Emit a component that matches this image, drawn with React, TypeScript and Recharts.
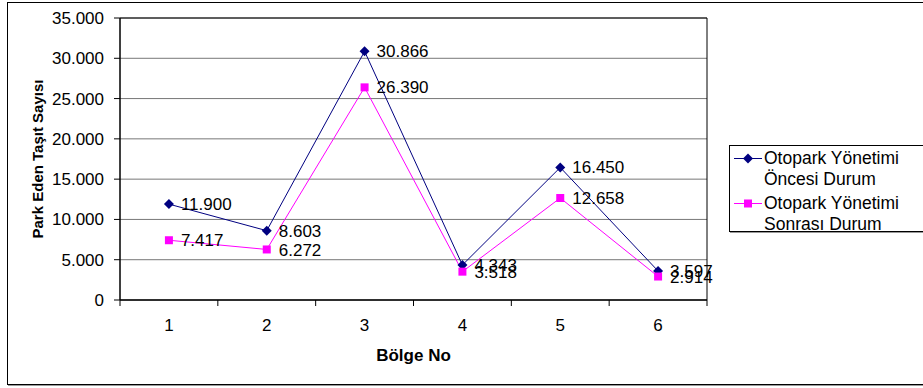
import React from "react";
import {
  CartesianGrid,
  LabelList,
  Line,
  LineChart,
  ReferenceArea,
  XAxis,
  YAxis,
} from "recharts";

const regions = [1, 2, 3, 4, 5, 6];
const beforeValues = [11900, 8603, 30866, 4343, 16450, 3597];
const afterValues = [7417, 6272, 26390, 3518, 12658, 2914];
const yTicks = [0, 5000, 10000, 15000, 20000, 25000, 30000, 35000];
const xTicks = [0.5, 1, 1.5, 2, 2.5, 3, 3.5, 4, 4.5, 5, 5.5, 6, 6.5];
const beforeName = ["Otopark Yönetimi", "Öncesi Durum"];
const afterName = ["Otopark Yönetimi", "Sonrası Durum"];

const NAVY = "#000080";
const MAGENTA = "#FF00FF";
const FONT = '"Liberation Sans", Arial, sans-serif';
const FS = 17;

const data = regions.map((r, i) => ({
  region: r,
  before: beforeValues[i],
  after: afterValues[i],
}));

// 11900 -> "11.900"
const fmt = (v: number) => String(v).replace(/\B(?=(\d{3})+(?!\d))/g, ".");

const XTick = (props: any) => {
  const { x, y, payload } = props;
  const v = payload.value;
  if (Number.isInteger(v)) {
    return (
      <text x={x} y={y + 25} textAnchor="middle" fontSize={FS} fontFamily={FONT} fill="#000">
        {v}
      </text>
    );
  }
  return <line x1={x} x2={x} y1={y - 6} y2={y} stroke="#000" />;
};

const Diamond = (props: any) => {
  const { cx, cy } = props;
  if (cx == null || cy == null) return <g key={props.key} />;
  return (
    <path
      key={props.key}
      d={`M${cx},${cy - 5}L${cx + 5},${cy}L${cx},${cy + 5}L${cx - 5},${cy}Z`}
      fill={NAVY}
    />
  );
};

const Square = (props: any) => {
  const { cx, cy } = props;
  if (cx == null || cy == null) return <g key={props.key} />;
  return <rect key={props.key} x={cx - 4} y={cy - 4} width={8} height={8} fill={MAGENTA} />;
};

const LegendItem = ({ color, lines, square }: { color: string; lines: string[]; square: boolean }) => (
  <div style={{ display: "flex", alignItems: "flex-start", marginBottom: 3 }}>
    <svg width={34} height={21} style={{ flex: "none" }}>
      <line x1={4} x2={32} y1={10.5} y2={10.5} stroke={color} strokeWidth={1} />
      {square ? (
        <rect x={14} y={6.5} width={8} height={8} fill={color} />
      ) : (
        <path d="M18,5.5L23,10.5L18,15.5L13,10.5Z" fill={color} />
      )}
    </svg>
    <div style={{ lineHeight: "21px", whiteSpace: "nowrap" }}>
      {lines.map((l) => (
        <div key={l}>{l}</div>
      ))}
    </div>
  </div>
);

export default function App() {
  return (
    <div
      style={{
        position: "absolute",
        left: 0,
        top: 0,
        width: 923,
        height: 388,
        overflow: "hidden",
        background: "#fff",
        fontFamily: FONT,
      }}
    >
      {/* outer chart frame */}
      <div
        style={{
          position: "absolute",
          left: 7,
          top: 2,
          width: 940,
          height: 381,
          border: "1px solid #000",
          boxShadow: "1px 1px 0 #999",
        }}
      />

      <div style={{ position: "absolute", left: 0, top: 0 }}>
        <LineChart
          width={923}
          height={388}
          data={data}
          margin={{ top: 18, right: 216, left: 0, bottom: 0 }}
        >
          <CartesianGrid vertical={false} stroke="#777" />
          <ReferenceArea
            x1={0.5}
            x2={6.5}
            y1={0}
            y2={35000}
            fill="none"
            stroke="#000"
            strokeWidth={1}
          />
          <XAxis
            dataKey="region"
            type="number"
            domain={[0.5, 6.5]}
            ticks={xTicks}
            interval={0}
            tickLine={false}
            tickSize={6}
            tickMargin={0}
            tick={<XTick />}
            axisLine={{ stroke: "#000" }}
            height={88}
            label={{
              value: "Bölge No",
              position: "insideBottom",
              offset: 27,
              style: { fontWeight: "bold", fontSize: FS, fontFamily: FONT, fill: "#000" },
            }}
          />
          <YAxis
            domain={[0, 35000]}
            ticks={yTicks}
            interval={0}
            width={120}
            tickSize={6}
            tickMargin={10}
            tickFormatter={fmt}
            tick={{ fontSize: FS, fontFamily: FONT, fill: "#000" }}
            tickLine={{ stroke: "#000" }}
            axisLine={{ stroke: "#000" }}
            label={{
              value: "Park Eden Taşıt Sayısı",
              angle: -90,
              position: "insideLeft",
              offset: 38,
              style: {
                fontWeight: "bold",
                fontSize: 15,
                fontFamily: FONT,
                fill: "#000",
                textAnchor: "middle",
              },
            }}
          />
          <Line
            dataKey="before"
            name={beforeName.join(" ")}
            stroke={NAVY}
            strokeWidth={1}
            dot={(p: any) => <Diamond {...p} />}
            activeDot={false}
            isAnimationActive={false}
          >
            <LabelList
              dataKey="before"
              position="right"
              offset={12}
              formatter={(v: any) => fmt(Number(v))}
              style={{ fontSize: FS, fontFamily: FONT, fill: "#000" }}
            />
          </Line>
          <Line
            dataKey="after"
            name={afterName.join(" ")}
            stroke={MAGENTA}
            strokeWidth={1}
            dot={(p: any) => <Square {...p} />}
            activeDot={false}
            isAnimationActive={false}
          >
            <LabelList
              dataKey="after"
              position="right"
              offset={12}
              formatter={(v: any) => fmt(Number(v))}
              style={{ fontSize: FS, fontFamily: FONT, fill: "#000" }}
            />
          </Line>
        </LineChart>
      </div>

      {/* legend */}
      <div
        style={{
          position: "absolute",
          left: 729,
          top: 145,
          width: 200,
          height: 87,
          border: "1px solid #000",
          boxShadow: "1px 1px 0 #999",
          background: "#fff",
          fontSize: 17.5,
          color: "#000",
          paddingTop: 2,
          boxSizing: "border-box",
        }}
      >
        <LegendItem color={NAVY} lines={beforeName} square={false} />
        <LegendItem color={MAGENTA} lines={afterName} square={true} />
      </div>
    </div>
  );
}
